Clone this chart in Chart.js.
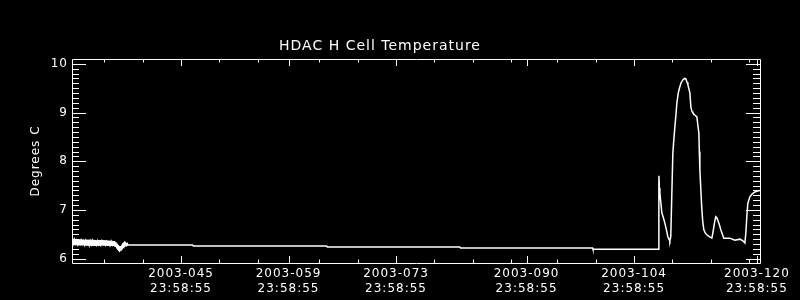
<!DOCTYPE html>
<html>
<head>
<meta charset="utf-8">
<script src="https://cdn.jsdelivr.net/npm/chart.js@4"></script>
<style>
  html, body { margin: 0; padding: 0; background: #000; }
  canvas { display: block; }
</style>
</head>
<body>
<canvas id="grafico" width="800" height="300"></canvas>
<script>
// day of year 2003 (fractional) and temperature in degrees C
var dayOfYear = [
  31.80, 31.95, 32.10, 32.25, 32.40, 32.55, 32.70, 32.85, 33.00, 33.15,
  33.30, 33.45, 33.60, 33.75, 33.90, 34.05, 34.20, 34.35, 34.50, 34.65,
  34.80, 34.95, 35.10, 35.25, 35.40, 35.55, 35.70, 35.85, 36.00, 36.15,
  36.30, 36.45, 36.60, 36.75, 36.90, 37.05, 37.20, 37.35, 37.50, 37.65,
  37.80, 37.95, 38.10, 38.25, 38.40, 38.55, 38.70, 38.85, 39.00, 39.10,
  47.50, 47.60, 64.95, 65.05, 82.30, 82.40, 99.60, 99.65,
  108.20, 108.23, 108.30, 108.36, 108.45, 108.62, 108.80, 109.01, 109.20, 109.40,
  109.55, 109.66, 109.78, 109.92, 110.05, 110.18, 110.31, 110.45, 110.57, 110.75,
  110.96, 111.15, 111.36, 111.55, 111.75, 111.90, 112.01, 112.15, 112.27, 112.40,
  112.55, 112.66, 112.90, 113.18, 113.30, 113.44, 113.50, 113.57, 113.70, 113.83,
  113.95, 114.09, 114.30, 114.48, 114.80, 115.13, 115.25, 115.39, 115.52, 115.65,
  115.78, 115.91, 116.10, 116.30, 116.50, 116.69, 117.10, 117.47, 118.12, 118.80,
  119.20, 119.43, 119.56, 119.70, 119.82, 120.08, 120.40, 120.73, 121.10, 121.38
];
var tempC = [
  6.38, 6.30, 6.39, 6.31, 6.37, 6.29, 6.36, 6.30, 6.38, 6.31,
  6.36, 6.28, 6.37, 6.30, 6.35, 6.27, 6.36, 6.29, 6.37, 6.30,
  6.35, 6.28, 6.36, 6.29, 6.35, 6.28, 6.36, 6.29, 6.34, 6.28,
  6.35, 6.29, 6.34, 6.27, 6.35, 6.28, 6.33, 6.27, 6.31, 6.24,
  6.20, 6.16, 6.22, 6.19, 6.28, 6.24, 6.33, 6.27, 6.31, 6.28,
  6.28, 6.26, 6.26, 6.24, 6.24, 6.22, 6.22, 6.19,
  6.19, 7.70, 7.45, 7.35, 7.20, 6.94, 6.85, 6.73, 6.60, 6.45,
  6.40, 6.36, 6.45, 7.35, 8.17, 8.45, 8.70, 8.95, 9.19, 9.40,
  9.53, 9.62, 9.67, 9.70, 9.69, 9.62, 9.57, 9.48, 9.40, 9.11,
  9.02, 8.99, 8.95, 8.91, 8.75, 8.58, 8.20, 7.82, 7.40, 7.00,
  6.75, 6.59, 6.52, 6.49, 6.45, 6.42, 6.52, 6.65, 6.78, 6.86,
  6.84, 6.79, 6.70, 6.59, 6.50, 6.42, 6.42, 6.42, 6.38, 6.40,
  6.36, 6.32, 6.53, 6.90, 7.14, 7.27, 7.33, 7.37, 7.39, 7.40
];

// min / max envelope of the noisy stretch at the start
var bandDays = [31.80, 32.60, 33.40, 34.20, 35.00, 35.80, 36.60, 37.40, 37.70, 37.95, 38.20, 38.45, 38.70, 39.10];
var bandHigh = [6.40, 6.39, 6.38, 6.38, 6.37, 6.37, 6.36, 6.35, 6.30, 6.25, 6.25, 6.32, 6.34, 6.29];
var bandLow  = [6.29, 6.28, 6.28, 6.27, 6.27, 6.28, 6.27, 6.27, 6.20, 6.15, 6.17, 6.22, 6.26, 6.27];

// labelled ticks: day of year, shown at 23:58:55
var tickDays = [45, 59, 73, 90, 104, 120];
var tickTime = "23:58:55";
var minorDays = [35, 40, 50, 55, 63, 68, 78, 83, 88, 94, 99, 109, 114, 119];
var yTicks = [6, 7, 8, 9, 10];
var dayFrac = 86335 / 86400; // 23:58:55

function pad3(n) {
    return ("00" + n).slice(-3);
}

function toPoints(xs, ys) {
    return xs.map(function (d, i) { return { x: d, y: ys[i] }; });
}

// ticks hacia dentro, estilo IDL
var idlBox = {
    id: "idlBox",
    beforeDraw: function (chart) {
        var ctx = chart.ctx;
        ctx.save();
        ctx.fillStyle = "#000";
        ctx.fillRect(0, 0, chart.width, chart.height);
        ctx.restore();
        ctx.letterSpacing = "1px";
    },
    afterDraw: function (chart) {
        var ctx = chart.ctx;
        var a = chart.chartArea;
        var xs = chart.scales.x;
        var ys = chart.scales.y;
        ctx.save();
        ctx.strokeStyle = "#fff";
        ctx.lineWidth = 1;
        ctx.beginPath();
        ctx.rect(Math.round(a.left) + 0.5, Math.round(a.top) + 0.5,
                 Math.round(a.right - a.left), Math.round(a.bottom - a.top));
        function vtick(v, len) {
            var px = Math.round(xs.getPixelForValue(v)) + 0.5;
            ctx.moveTo(px, a.bottom); ctx.lineTo(px, a.bottom - len);
            ctx.moveTo(px, a.top); ctx.lineTo(px, a.top + len);
        }
        function htick(v, len) {
            var py = Math.round(ys.getPixelForValue(v)) + 0.5;
            ctx.moveTo(a.left, py); ctx.lineTo(a.left + len, py);
            ctx.moveTo(a.right, py); ctx.lineTo(a.right - len, py);
        }
        tickDays.forEach(function (d) { vtick(d + dayFrac, 7); });
        minorDays.forEach(function (d) { vtick(d + dayFrac, 3.5); });
        yTicks.forEach(function (v) { htick(v, 14); });
        for (var k = 59; k <= 101; k++) {
            var v = k / 10;
            if (k % 10 !== 0 && v > ys.min && v < ys.max) htick(v, 7);
        }
        ctx.stroke();
        ctx.restore();
    }
};

document.addEventListener("DOMContentLoaded", function () {
    var canvas = document.getElementById("grafico");
    var ctx = canvas.getContext("2d");

    new Chart(ctx, {
        type: "line",
        data: {
            datasets: [{
                label: "HDAC H Cell",
                data: toPoints(dayOfYear, tempC),
                borderColor: "#fff",
                borderWidth: 1.5,
                pointRadius: 0,
                tension: 0,
                fill: false
            }, {
                label: "band max",
                data: toPoints(bandDays, bandHigh),
                borderColor: "#fff",
                borderWidth: 1,
                pointRadius: 0,
                tension: 0,
                fill: false
            }, {
                label: "band min",
                data: toPoints(bandDays, bandLow),
                borderColor: "#fff",
                backgroundColor: "#fff",
                borderWidth: 1,
                pointRadius: 0,
                tension: 0,
                fill: "-1"
            }]
        },
        options: {
            responsive: false,
            animation: false,
            devicePixelRatio: 1,
            layout: { padding: { left: 0, right: 40, top: 0, bottom: 0 } },
            plugins: {
                legend: { display: false },
                tooltip: { enabled: false },
                title: {
                    display: true,
                    text: "HDAC H Cell Temperature",
                    color: "#fff",
                    font: { family: "DejaVu Sans", size: 14, weight: "normal", lineHeight: 1.2 },
                    padding: { top: 38, bottom: 4.2 }
                }
            },
            scales: {
                x: {
                    type: "linear",
                    min: 31.8,
                    max: 121.4,
                    grid: { display: false, drawTicks: false },
                    border: { display: false },
                    afterBuildTicks: function (scale) {
                        scale.ticks = tickDays.map(function (d) { return { value: d + dayFrac }; });
                    },
                    afterFit: function (scale) { scale.height = 37; },
                    ticks: {
                        color: "#fff",
                        maxRotation: 0,
                        autoSkip: false,
                        padding: 3,
                        font: { family: "DejaVu Sans", size: 12, lineHeight: 1.25 },
                        callback: function (value) {
                            return ["2003-" + pad3(Math.floor(value)), tickTime];
                        }
                    }
                },
                y: {
                    min: 5.91,
                    max: 10.1,
                    grid: { display: false, drawTicks: false },
                    border: { display: false },
                    afterBuildTicks: function (scale) {
                        scale.ticks = yTicks.map(function (v) { return { value: v }; });
                    },
                    afterFit: function (scale) { scale.width = 72; },
                    title: {
                        display: true,
                        text: "Degrees C",
                        color: "#fff",
                        font: { family: "DejaVu Sans", size: 12, lineHeight: 1.2 },
                        padding: { top: 29, bottom: 0 }
                    },
                    ticks: {
                        color: "#fff",
                        padding: 4,
                        font: { family: "DejaVu Sans", size: 12 }
                    }
                }
            }
        },
        plugins: [idlBox]
    });
});
</script>
</body>
</html>
